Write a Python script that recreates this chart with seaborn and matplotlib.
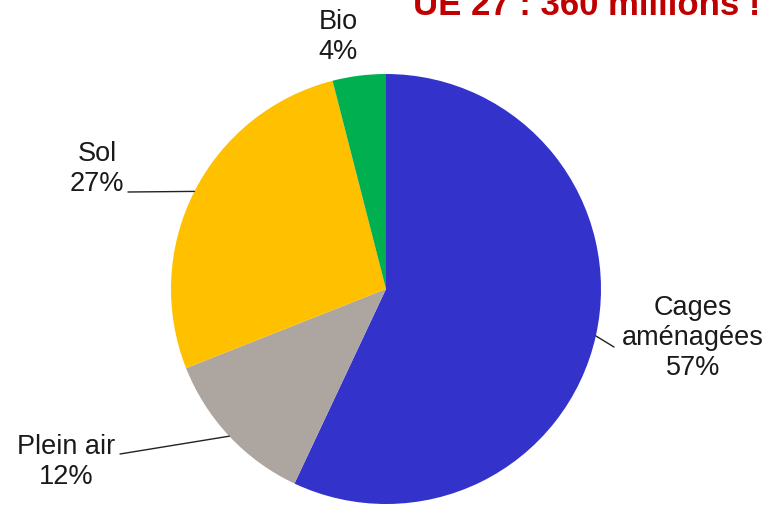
import numpy as np
import matplotlib.pyplot as plt
import seaborn as sns

# data
categories = ["Cages\naménagées", "Plein air", "Sol", "Bio"]
shares = [57, 12, 27, 4]
colors = ["#3333CC", "#ADA59F", "#FFC000", "#00B050"]
title = "UE 27 : 360 millions !"

sns.set_theme(style="white")
plt.rcParams["font.family"] = ["Liberation Sans", "DejaVu Sans"]

fig = plt.figure(figsize=(7.69, 5.06), dpi=100)
ax = fig.add_axes([0, 0, 1, 1])

cx, cy, r = 386, 506 - 290, 215
wedges, _ = ax.pie(shares, colors=colors, startangle=90, counterclock=False,
                   center=(cx, cy), radius=r, frame=True,
                   wedgeprops=dict(linewidth=0))
ax.set_xlim(0, 769)
ax.set_ylim(0, 506)
ax.set_aspect("equal")
ax.axis("off")

# label positions (pixels from top-left) and leader line ends
label_pos = [(693, 338), (66, 462), (97, 169), (338, 37)]
line_end = [(614, 348), (120, 455), (128, 193), None]
label_txt = [f"{c}\n{s}%" for c, s in zip(categories, shares)]

for w, txt, (lx, ly), le in zip(wedges, label_txt, label_pos, line_end):
    ax.text(lx, 506 - ly, txt, ha="center", va="center", fontsize=19.5,
            color="#1a1a1a", linespacing=1.2)
    if le is not None:
        ang = np.deg2rad((w.theta1 + w.theta2) / 2)
        px, py = cx + r * np.cos(ang), cy + r * np.sin(ang)
        ax.plot([px, le[0]], [py, 506 - le[1]], color="#222222", lw=1)

# title is partly cut off at the top in the original
ax.text(760, 506 - 15, title, ha="right", va="baseline", fontsize=25,
        fontweight="bold", color="#C00000")

fig.savefig("out.png", dpi=100)
